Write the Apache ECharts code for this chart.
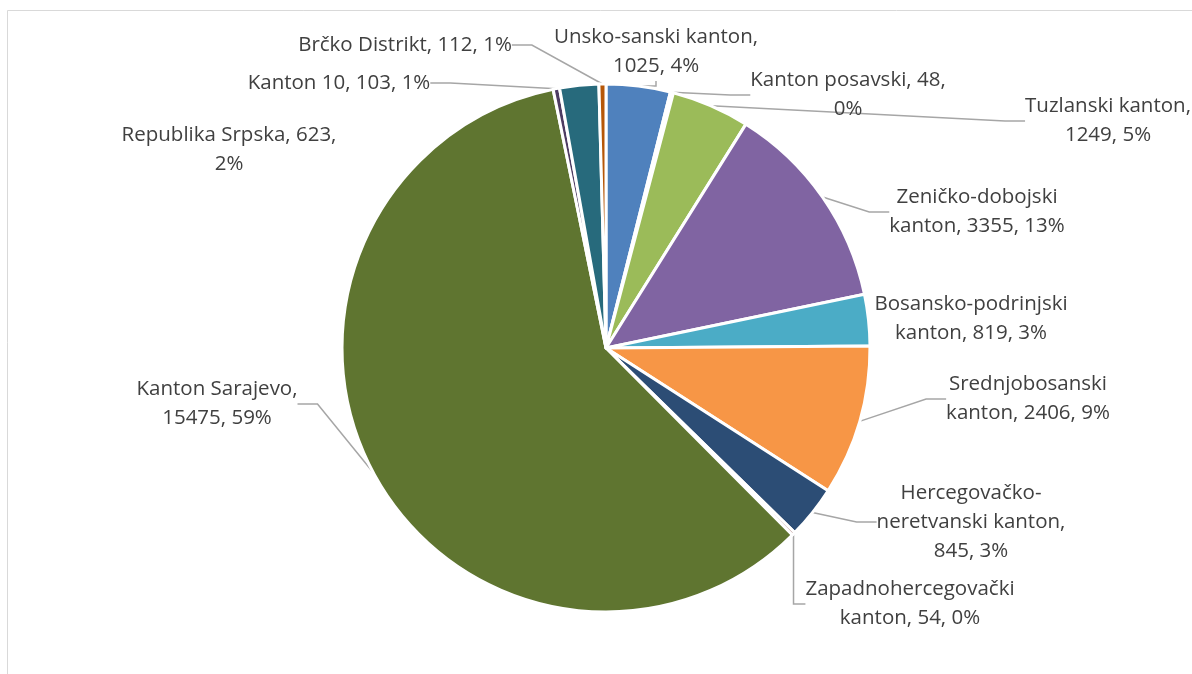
<!DOCTYPE html>
<html>
<head>
<meta charset="utf-8">
<script src="https://cdn.jsdelivr.net/npm/echarts@6/dist/echarts.min.js"></script>
<style>
html,body{margin:0;padding:0;background:#fff;}
#c{width:1192px;height:674px;}
</style>
</head>
<body>
<div id="c"></div>
<script>
const categories = [
  'Unsko-sanski kanton',
  'Kanton posavski',
  'Tuzlanski kanton',
  'Zeničko-dobojski kanton',
  'Bosansko-podrinjski kanton',
  'Srednjobosanski kanton',
  'Hercegovačko-neretvanski kanton',
  'Zapadnohercegovački kanton',
  'Kanton Sarajevo',
  'Kanton 10',
  'Republika Srpska',
  'Brčko Distrikt'
];
const values = [1025, 48, 1249, 3355, 819, 2406, 845, 54, 15475, 103, 623, 112];
const colors = ['#4F81BD','#C0504D','#9BBB59','#8064A2','#4BACC6','#F79646','#2C4D75','#772C2A','#5F7530','#4D3B62','#276A7C','#B65708'];
// tokens per line for each label (tokens split after spaces and hyphens)
const lineTokens = [[3,2],[3,1],[2,2],[2,3],[2,3],[1,3],[1,2,2],[1,3],[2,2],[4],[3,1],[4]];
// label block centres
const labelPos = [[656,52],[848,95],[1108,121],[977,212],[971,319],[1028,399],[971,522],[910,604],[217,404],[339,83],[229,150],[405,45]];
const showLine = [true,true,true,true,false,true,true,true,true,true,false,true];

function wrapLabel(text, counts) {
  const tokens = text.split(/(?<=[- ])/);
  const lines = [];
  let k = 0;
  for (const n of counts) {
    lines.push(tokens.slice(k, k + n).join('').trim());
    k += n;
  }
  return lines.join('\n');
}

const chart = echarts.init(document.getElementById('c'), null, {renderer: 'canvas'});
const FONT = '"Open Sans", Lato, sans-serif';

chart.setOption({
  animation: false,
  backgroundColor: '#ffffff',
  graphic: [{
    type: 'rect',
    shape: {x: 7.5, y: 10.5, width: 1300, height: 800},
    style: {fill: 'none', stroke: '#d9d9d9', lineWidth: 1},
    silent: true, z: -10
  }],
  series: [{
    type: 'pie',
    center: [606, 348],
    radius: [0, 264],
    startAngle: 90,
    clockwise: true,
    percentPrecision: 0,
    avoidLabelOverlap: false,
    itemStyle: {borderColor: '#ffffff', borderWidth: 3},
    label: {
      show: true,
      position: 'outside',
      color: '#404040',
      fontFamily: FONT,
      fontSize: 20.5,
      lineHeight: 29,
      align: 'center',
      formatter: function (p) {
        return wrapLabel(p.name + ', ' + p.value + ', ' + p.percent + '%', lineTokens[p.dataIndex]);
      }
    },
    labelLine: {
      show: true,
      length: 20,
      length2: 20,
      smooth: false,
      lineStyle: {color: '#a6a6a6', width: 1.5}
    },
    labelLayout: function (params) {
      const p = labelPos[params.dataIndex];
      return {x: p[0], y: p[1], align: 'center', verticalAlign: 'middle', hideOverlap: false};
    },
    data: categories.map((name, i) => ({
      name: name,
      value: values[i],
      itemStyle: {color: colors[i]},
      labelLine: {show: showLine[i]}
    }))
  }]
});
</script>
</body>
</html>
